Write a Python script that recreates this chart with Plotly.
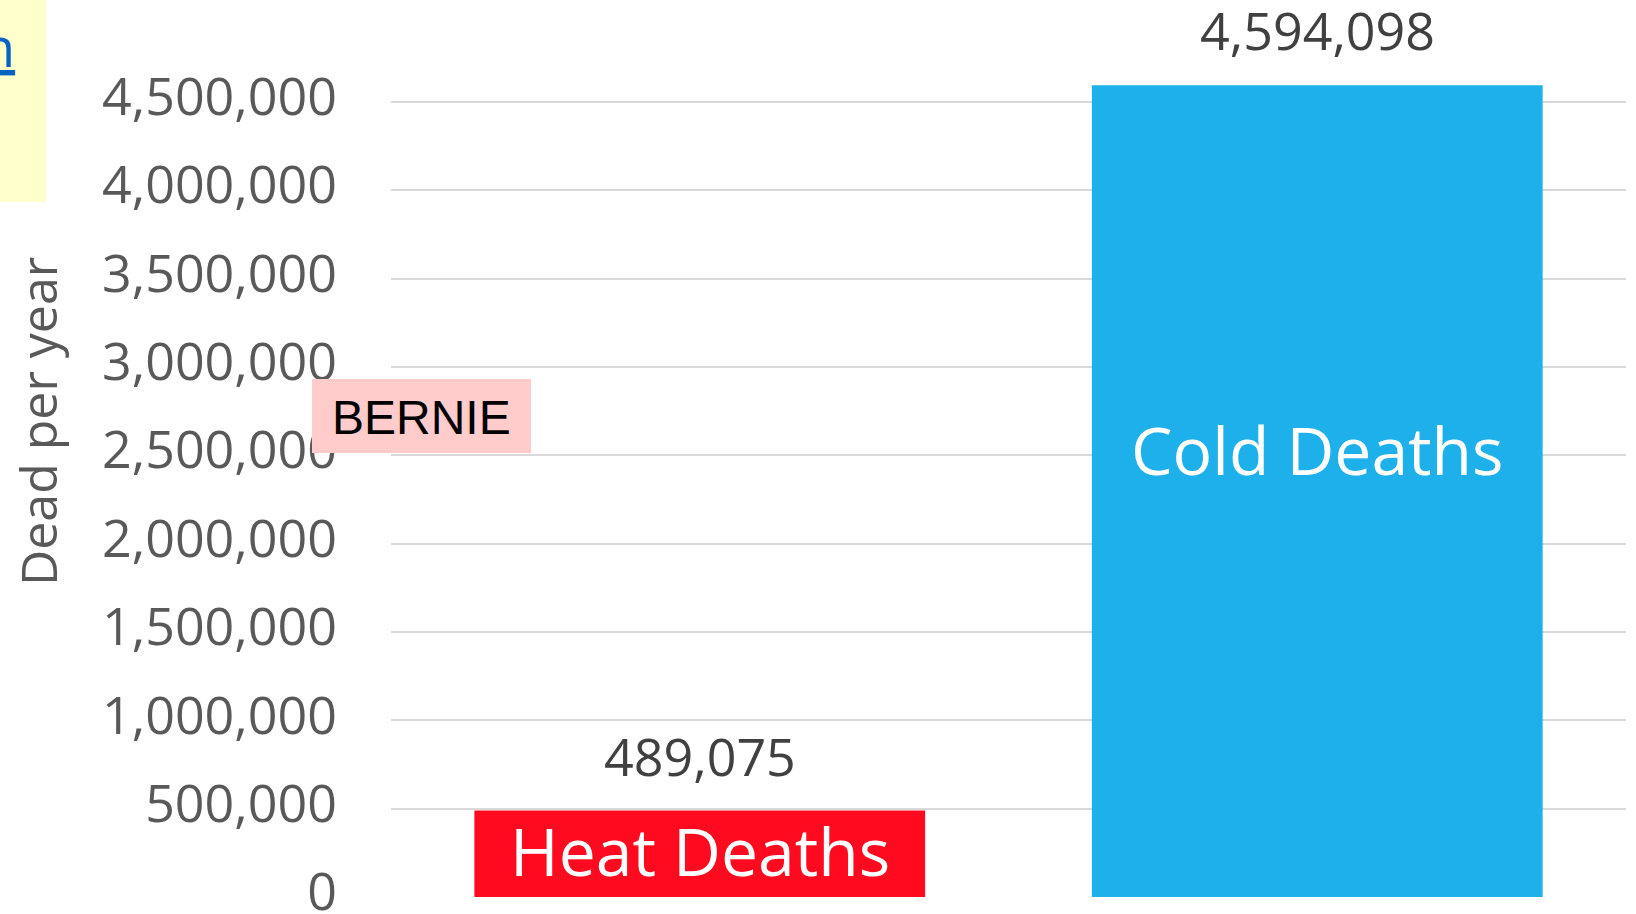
import plotly.graph_objects as go

categories = ["Heat Deaths", "Cold Deaths"]
deaths = [489075, 4594098]
bar_colors = ["#ff0a1e", "#1eb0ea"]
tick_values = [0, 500000, 1000000, 1500000, 2000000, 2500000, 3000000, 3500000, 4000000, 4500000]
tick_labels = ["{:,}".format(v) for v in tick_values]

W, H = 1636, 914
L, R, T, B = 391, 10, 10, 17


def px(x):
    # pixel x -> paper x
    return (x - L) / (W - L - R)


def py(y):
    # pixel y (from top) -> paper y
    return (H - B - y) / (H - T - B)


fig = go.Figure()
fig.add_trace(go.Bar(x=categories, y=deaths, marker={"color": bar_colors, "line": {"width": 0}},
                     hoverinfo='none'))

# value labels above bars
for cat, val in zip(categories, deaths):
    fig.add_annotation(x=cat, y=val, text="{:,}".format(val), showarrow=False,
                       xanchor="center", yanchor="bottom", yshift=18,
                       font={"family": "Open Sans", "size": 52, "color": "#404040"})

# category names inside bars
fig.add_annotation(x=categories[0], y=265000, text=categories[0], showarrow=False,
                   xanchor="center", yanchor="middle",
                   font={"family": "Open Sans", "size": 66, "color": "white"})
fig.add_annotation(x=categories[1], y=2536000, text=categories[1], showarrow=False,
                   xanchor="center", yanchor="middle",
                   font={"family": "Open Sans", "size": 66, "color": "white"})

# axis title
fig.add_annotation(xref="paper", yref="paper", x=px(38), y=py(422),
                   text="Dead per year", textangle=-90, showarrow=False,
                   xanchor="center", yanchor="middle",
                   font={"family": "Open Sans", "size": 50, "color": "#595959"})

# BERNIE tag
fig.add_shape(type="rect", xref="paper", yref="paper",
              x0=px(312), x1=px(531), y0=py(453), y1=py(379),
              fillcolor="#ffcbcb", line={"width": 0}, layer="above")
fig.add_annotation(xref="paper", yref="paper", x=px(421), y=py(417),
                   text="BERNIE", showarrow=False, xanchor="center", yanchor="middle",
                   font={"family": "Liberation Sans", "size": 48, "color": "black"})

# yellow note box with clipped link
fig.add_shape(type="rect", xref="paper", yref="paper",
              x0=px(-5), x1=px(46), y0=py(202), y1=py(-5),
              fillcolor="#ffffcc", line={"width": 0}, layer="below")
fig.add_annotation(xref="paper", yref="paper", x=px(17), y=py(46),
                   text="<u>n</u>", showarrow=False, xanchor="right", yanchor="middle",
                   font={"family": "Open Sans", "size": 54, "color": "#0563c1"})

fig.update_layout(
    width=W, height=H,
    margin={"l": L, "r": R, "t": T, "b": B, "pad": 0},
    paper_bgcolor="white", plot_bgcolor="white",
    showlegend=False, bargap=0.27,
    xaxis={"showticklabels": False, "showgrid": False, "zeroline": False, "showline": False,
           "automargin": False},
    yaxis={"range": [0, 5020000], "tickvals": tick_values, "ticktext": tick_labels,
           "showgrid": True, "gridcolor": "#d9d9d9", "gridwidth": 2, "zeroline": False,
           "showline": False, "ticklabelstandoff": 53, "ticklabelshift": -5,
           "ticklabeloverflow": "allow", "automargin": False,
           "tickfont": {"family": "Open Sans", "size": 52, "color": "#595959"}},
)

fig.write_html("out.html", config={"displayModeBar": False},
               post_script="document.body.style.margin='0';")
